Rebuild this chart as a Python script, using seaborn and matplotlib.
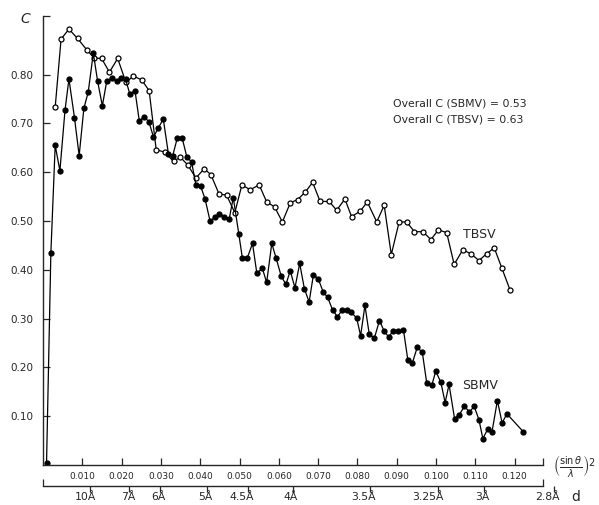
import matplotlib
matplotlib.use("Agg")
import matplotlib.pyplot as plt
import matplotlib.transforms as mtransforms
import seaborn as sns

# ---- data ----
sbmv_s = [0.0009, 0.0020, 0.0031, 0.0043, 0.0056, 0.0066, 0.0080, 0.0092, 0.0104, 0.0115,
          0.0128, 0.0139, 0.0151, 0.0162, 0.0175, 0.0188, 0.0198, 0.0210, 0.0221, 0.0234,
          0.0245, 0.0258, 0.0270, 0.0281, 0.0293, 0.0306, 0.0319, 0.0330, 0.0342, 0.0354,
          0.0366, 0.0378, 0.0389, 0.0401, 0.0412, 0.0425, 0.0438, 0.0449, 0.0461, 0.0474,
          0.0484, 0.0498, 0.0507, 0.0520, 0.0533, 0.0544, 0.0558, 0.0569, 0.0582, 0.0593,
          0.0606, 0.0618, 0.0629, 0.0641, 0.0653, 0.0665, 0.0677, 0.0688, 0.0700, 0.0713,
          0.0724, 0.0737, 0.0749, 0.0761, 0.0773, 0.0784, 0.0798, 0.0808, 0.0819, 0.0830,
          0.0843, 0.0856, 0.0868, 0.0879, 0.0891, 0.0904, 0.0917, 0.0928, 0.0940, 0.0952,
          0.0965, 0.0976, 0.0989, 0.0999, 0.1012, 0.1023, 0.1033, 0.1047, 0.1059, 0.1072,
          0.1085, 0.1097, 0.1109, 0.1119, 0.1131, 0.1142, 0.1156, 0.1168, 0.1180, 0.1222]
sbmv_c = [0.004, 0.434, 0.655, 0.603, 0.727, 0.791, 0.712, 0.634, 0.731, 0.764,
          0.844, 0.786, 0.736, 0.786, 0.793, 0.786, 0.793, 0.790, 0.760, 0.767,
          0.705, 0.714, 0.702, 0.672, 0.690, 0.709, 0.638, 0.634, 0.671, 0.670,
          0.631, 0.621, 0.574, 0.571, 0.546, 0.500, 0.508, 0.515, 0.509, 0.505,
          0.548, 0.474, 0.425, 0.425, 0.454, 0.393, 0.403, 0.374, 0.454, 0.424,
          0.387, 0.370, 0.398, 0.363, 0.413, 0.361, 0.334, 0.390, 0.382, 0.354,
          0.344, 0.317, 0.304, 0.317, 0.317, 0.313, 0.301, 0.265, 0.327, 0.268,
          0.260, 0.296, 0.274, 0.263, 0.274, 0.274, 0.277, 0.216, 0.210, 0.241,
          0.231, 0.169, 0.163, 0.192, 0.170, 0.128, 0.165, 0.095, 0.103, 0.120,
          0.109, 0.120, 0.093, 0.054, 0.073, 0.067, 0.132, 0.086, 0.105, 0.068]

tbsv_s = [0.0031, 0.0046, 0.0066, 0.0088, 0.0111, 0.0130, 0.0149, 0.0169, 0.0190, 0.0211,
          0.0230, 0.0251, 0.0270, 0.0288, 0.0310, 0.0332, 0.0349, 0.0368, 0.0389, 0.0410,
          0.0427, 0.0448, 0.0467, 0.0488, 0.0506, 0.0527, 0.0550, 0.0569, 0.0589, 0.0609,
          0.0629, 0.0648, 0.0667, 0.0686, 0.0705, 0.0728, 0.0747, 0.0768, 0.0785, 0.0807,
          0.0825, 0.0849, 0.0868, 0.0886, 0.0906, 0.0925, 0.0945, 0.0966, 0.0987, 0.1006,
          0.1027, 0.1046, 0.1068, 0.1088, 0.1109, 0.1129, 0.1148, 0.1167, 0.1188]
tbsv_c = [0.733, 0.873, 0.893, 0.874, 0.851, 0.834, 0.833, 0.805, 0.833, 0.784,
          0.797, 0.789, 0.767, 0.646, 0.641, 0.622, 0.631, 0.615, 0.588, 0.607,
          0.595, 0.555, 0.553, 0.517, 0.574, 0.564, 0.574, 0.539, 0.529, 0.498,
          0.537, 0.544, 0.559, 0.579, 0.540, 0.540, 0.522, 0.545, 0.509, 0.520,
          0.539, 0.498, 0.532, 0.431, 0.498, 0.498, 0.478, 0.478, 0.462, 0.482,
          0.476, 0.411, 0.441, 0.433, 0.419, 0.433, 0.445, 0.404, 0.359]

s_ticks = [0.010, 0.020, 0.030, 0.040, 0.050, 0.060, 0.070, 0.080, 0.090, 0.100, 0.110, 0.120]
s_labels = ["0.010", "0.020", "0.030", "0.040", "0.050", "0.060",
            "0.070", "0.080", "0.090", "0.100", "0.110", "0.120"]
c_ticks = [0.10, 0.20, 0.30, 0.40, 0.50, 0.60, 0.70, 0.80]
c_labels = ["0.10", "0.20", "0.30", "0.40", "0.50", "0.60", "0.70", "0.80"]
d_pos = [0.0120, 0.0220, 0.0298, 0.0417, 0.0522, 0.0635, 0.0832, 0.1006, 0.1122, 0.1300]
d_labels = ["10Å", "7Å", "6Å", "5Å", "4.5Å", "4Å", "3.5Å", "3.25Å", "3Å", "2.8Å"]

S_MAX = 0.1272
C_MAX = 0.92

sns.set_style("ticks")
plt.rcParams['font.family'] = ['DejaVu Sans']

W, H = 599, 505
fig = plt.figure(figsize=(W / 100, H / 100), dpi=100)
ax = fig.add_axes([43 / W, 1 - 465 / H, 500 / W, 449 / H])

sns.lineplot(x=tbsv_s, y=tbsv_c, ax=ax, color='black', linewidth=0.9, marker='o',
             markersize=3.6, markerfacecolor='white', markeredgecolor='black',
             markeredgewidth=0.9, sort=False)
sns.lineplot(x=sbmv_s, y=sbmv_c, ax=ax, color='black', linewidth=0.9, marker='o',
             markersize=3.6, markerfacecolor='black', markeredgecolor='black',
             markeredgewidth=0.9, sort=False)

ax.set_xlim(0, S_MAX)
ax.set_ylim(0, C_MAX)
sns.despine(ax=ax)
for s in ['left', 'bottom']:
    ax.spines[s].set_linewidth(1.0)
ax.set_xticks(s_ticks + [S_MAX], s_labels + [''])
ax.set_yticks(c_ticks + [C_MAX], c_labels + [''])
ax.tick_params(axis='x', direction='in', length=5, width=0.9, pad=5, labelsize=6.5)
ax.tick_params(axis='y', direction='in', length=5, width=0.9, pad=7, labelsize=7.5)
ax.set_xlabel('')
ax.set_ylabel('')

# y-axis title
fig.text(25 / W, 1 - 19 / H, 'C', fontsize=10, style='italic', ha='center', va='center')

# annotations
ax.text(0.0891, 0.741, 'Overall C (SBMV) = 0.53', fontsize=7.8, ha='left', va='center')
ax.text(0.0891, 0.708, 'Overall C (TBSV) = 0.63', fontsize=7.8, ha='left', va='center')
ax.text(0.1068, 0.472, 'TBSV', fontsize=9, ha='left', va='center')
ax.text(0.1065, 0.163, 'SBMV', fontsize=9, ha='left', va='center')

# x-axis title
fig.text(575 / W, 1 - 466 / H, r'$\left(\frac{\sin\theta}{\lambda}\right)^2$',
         fontsize=10, ha='center', va='center')
fig.text(576 / W, 1 - 497 / H, 'd', fontsize=10, ha='center', va='center')

# secondary d-spacing axis
ax2 = fig.add_axes([43 / W, 1 - 486 / H, (565 - 43) / W, 0.002])
ax2.set_xlim(0, (565 - 43) / 3930)
ax2.patch.set_visible(False)
for s in ['top', 'right', 'left']:
    ax2.spines[s].set_visible(False)
ax2.spines['bottom'].set_bounds(0, S_MAX)
ax2.spines['bottom'].set_linewidth(1.0)
ax2.set_yticks([])
ax2.set_xticks(d_pos, [''] * len(d_pos))
ax2.set_xticks([0, S_MAX], minor=True)
ax2.tick_params(axis='x', which='major', direction='out', length=4, width=0.9)
ax2.tick_params(axis='x', which='minor', direction='in', length=5, width=0.9)
lab_tr = (mtransforms.blended_transform_factory(ax2.transData, ax2.transAxes)
          + mtransforms.ScaledTranslation(4 / 72, -4.5 / 72, fig.dpi_scale_trans))
for p, lab in zip(d_pos, d_labels):
    ax2.text(p, 0, lab, transform=lab_tr, ha='right', va='top', fontsize=7.8)

fig.savefig('out.png', dpi=100)
